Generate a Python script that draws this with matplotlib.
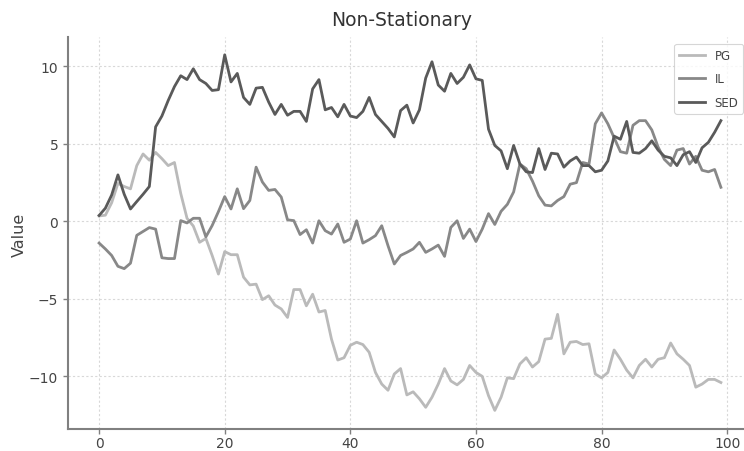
import matplotlib
matplotlib.use("Agg")
import matplotlib.pyplot as plt

x = list(range(100))

pg = [0.35, 0.4, 1.2, 2.45, 2.25, 2.1, 3.6, 4.35, 3.95, 4.45,
      4.05, 3.6, 3.8, 1.8, 0.2, -0.3, -1.35, -1.1, -2.2, -3.4,
      -1.95, -2.15, -2.15, -3.6, -4.1, -4.05, -5.05, -4.8, -5.4, -5.65,
      -6.2, -4.4, -4.4, -5.45, -4.7, -5.85, -5.75, -7.6, -8.95, -8.8,
      -8.0, -7.8, -7.95, -8.45, -9.75, -10.5, -10.9, -9.85, -9.5, -11.2,
      -11.0, -11.45, -12.0, -11.35, -10.5, -9.5, -10.3, -10.55, -10.2, -9.3,
      -9.75, -10.0, -11.25, -12.2, -11.35, -10.1, -10.15, -9.2, -8.8, -9.4,
      -9.05, -7.6, -7.55, -6.0, -8.55, -7.8, -7.75, -7.95, -7.9, -9.85,
      -10.1, -9.75, -8.3, -8.9, -9.6, -10.1, -9.3, -8.9, -9.4, -8.9,
      -8.8, -7.85, -8.55, -8.9, -9.3, -10.7, -10.5, -10.2, -10.2, -10.4]

il = [-1.4, -1.78, -2.2, -2.9, -3.05, -2.7, -0.9, -0.65, -0.4, -0.5,
      -2.35, -2.4, -2.4, 0.05, -0.1, 0.2, 0.2, -1.0, -0.27, 0.63,
      1.6, 0.8, 2.1, 0.82, 1.35, 3.5, 2.54, 2.0, 2.06, 1.57,
      0.1, 0.05, -0.85, -0.54, -1.4, 0.04, -0.6, -0.82, -0.17, -1.35,
      -1.14, 0.04, -1.4, -1.18, -0.92, -0.28, -1.57, -2.75, -2.2, -2.0,
      -1.78, -1.35, -2.0, -1.78, -1.53, -2.26, -0.39, 0.04, -1.1, -0.5,
      -1.3, -0.5, 0.5, -0.2, 0.65, 1.1, 1.9, 3.7, 3.4, 2.6,
      1.65, 1.05, 1.0, 1.35, 1.6, 2.4, 2.5, 3.8, 3.7, 6.3,
      7.0, 6.3, 5.4, 4.5, 4.4, 6.2, 6.5, 6.5, 5.9, 4.8,
      4.0, 3.6, 4.6, 4.7, 3.7, 4.2, 3.3, 3.2, 3.35, 2.2]

sed = [0.38, 0.85, 1.7, 3.0, 1.75, 0.8, 1.28, 1.75, 2.25, 6.1,
       6.8, 7.8, 8.7, 9.4, 9.15, 9.85, 9.15, 8.9, 8.45, 8.5,
       10.75, 9.0, 9.55, 8.0, 7.55, 8.6, 8.65, 7.7, 6.9, 7.55,
       6.85, 7.1, 7.1, 6.45, 8.55, 9.15, 7.2, 7.35, 6.75, 7.55,
       6.8, 6.7, 7.1, 8.0, 6.9, 6.45, 6.0, 5.45, 7.15, 7.5,
       6.35, 7.2, 9.25, 10.3, 8.8, 8.4, 9.55, 8.9, 9.3, 10.1,
       9.2, 9.1, 5.95, 4.9, 4.55, 3.4, 4.9, 3.7, 3.2, 3.15,
       4.7, 3.35, 4.4, 4.35, 3.5, 3.9, 4.15, 3.6, 3.6, 3.2,
       3.3, 3.9, 5.5, 5.3, 6.45, 4.45, 4.4, 4.7, 5.2, 4.6,
       4.2, 4.1, 3.6, 4.3, 4.5, 3.8, 4.75, 5.1, 5.75, 6.5]

series_names = ["PG", "IL", "SED"]
colors = ["#bababa", "#888888", "#5a5a5a"]
x_ticks = [0, 20, 40, 60, 80, 100]
y_ticks = [-10, -5, 0, 5, 10]

W, H = 744, 452
fig = plt.figure(figsize=(W / 100, H / 100), dpi=100)
ax = fig.add_axes([68 / W, (H - 430) / H, (752 - 68) / W, (430 - 38) / H])

lines = []
for data, name, c in zip([pg, il, sed], series_names, colors):
    ln, = ax.plot(x, data, color=c, lw=2.0, label=name)
    lines.append(ln)

ax.set_xlim(-4.95, 103.95)
ax.set_ylim(-13.4, 11.9)
ax.set_xticks(x_ticks)
ax.set_yticks(y_ticks)
ax.grid(True, ls=(0, (2, 2)), color="#d8d8d8", lw=0.8)
for s in ["top", "right"]:
    ax.spines[s].set_visible(False)
for s in ["left", "bottom"]:
    ax.spines[s].set_color("#808080")
    ax.spines[s].set_linewidth(1.5)
ax.tick_params(colors="#808080", labelcolor="#444444", labelsize=10,
               length=3.5, width=1)
ax.tick_params(axis="x", pad=1.5)

fig.text(19 / W, 1 - 235 / H, "Value", rotation=90, ha="center", va="center",
         fontsize=11.5, color="#444444")

fig.text(402 / W, 1 - 20 / H, "Non-Stationary", ha="center", va="center",
         fontsize=13.5, color="#333333")

leg = fig.legend(handles=lines, loc="upper right",
                 bbox_to_anchor=(743 / W, 1 - 45 / H), fontsize=8.5,
                 labelspacing=0.9, handlelength=2.2, frameon=True,
                 borderaxespad=0)
leg.get_frame().set_edgecolor("#cccccc")
leg.get_frame().set_linewidth(0.8)
for t in leg.get_texts():
    t.set_color("#444444")

fig.savefig("out.png", dpi=100)
